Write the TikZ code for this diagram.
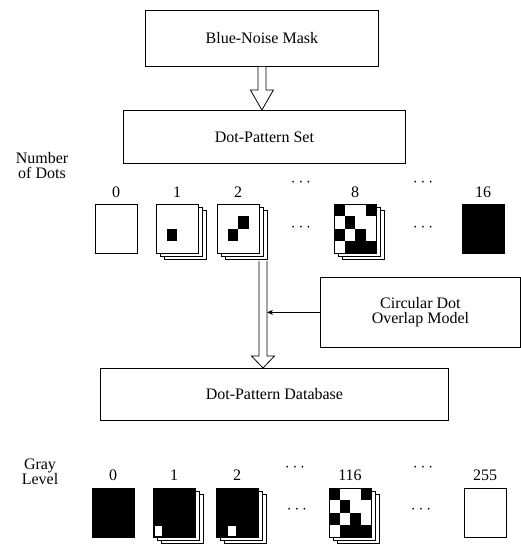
\documentclass[tikz,border=0pt]{standalone}
\usepackage{fontspec}
\setmainfont{Liberation Serif}
\usetikzlibrary{arrows.meta, calc}

\tikzset{
  block/.style={draw, rectangle, line width=0.8pt, inner sep=0pt, anchor=north west, align=center},
  card/.style={draw, rectangle, line width=0.7pt, minimum width=42pt, minimum height=49pt, inner sep=0pt, outer sep=0pt, anchor=north west},
  lbl/.style={inner sep=0pt},
}

% two cards stacked behind a front card
\newcommand{\backcards}[1]{%
  \draw[line width=0.7pt, fill=white] ($(#1)+(8,6)$) rectangle +(42,49);
  \draw[line width=0.7pt, fill=white] ($(#1)+(4,3)$) rectangle +(42,49);
}
% card with a 4x4 grid of cells: name, top-left, base colour, cell colour, cells
\def\cellgap{0}
\newcommand{\dotcard}[5]{%
  \node[card, fill=#3] (#1) at (#2) {};
  \foreach \c/\r in {#5}
    \fill[#4] ($(#1.north west)+(\c*10.5+\cellgap,\r*12.25+\cellgap)$) rectangle +(10.5-2*\cellgap,12.25-2*\cellgap);
}
% hollow block arrow: tail, tip, head length
\newcommand{\hollowarrow}[3]{%
  \draw[line width=0.8pt, fill=white, line join=miter]
    ($(#1)+(-4,0)$) -- ($(#2)+(-4,-#3)$) -- ($(#2)+(-11.5,-#3)$) -- (#2)
    -- ($(#2)+(11.5,-#3)$) -- ($(#2)+(4,-#3)$) -- ($(#1)+(4,0)$);
}

\begin{document}
\begin{tikzpicture}[x=1pt, y=-1pt, font=\fontsize{16}{15}\selectfont]
    \useasboundingbox (0,0) rectangle (521,544);

    % Blocks
    \node[block, minimum width=233pt, minimum height=56pt] (mask) at (145,10) {};
    \node at (mask.center) (masktxt) {Blue-Noise Mask};
    \node[block, minimum width=282pt, minimum height=53pt] (set) at (123,110) {};
    \node at (set.center) (settxt) {Dot-Pattern Set};
    \node[block, minimum width=200pt, minimum height=70pt] (model) at (320,277) {};
    \node[align=center] at (model.center) (modeltxt) {Circular Dot\\Overlap Model};
    \node[block, minimum width=348pt, minimum height=52pt] (base) at (100,368) {};
    \node at (base.center) (basetxt) {Dot-Pattern Database};

    % Arrows
    \hollowarrow{mask.south}{mask.south |- set.north}{20}
    \coordinate (split) at (263,261);
    \hollowarrow{split}{split |- base.north}{12}
    \draw[-{Stealth[length=6pt, width=5pt]}, line width=0.6pt] (model.west) -- ($(model.west -| split)+(4,0)$);

    % Dot patterns (number of dots)
    \node[align=center] (ndots) at (42,166) {Number\\of Dots};
    \node[card, fill=white] (d0) at (95,204) {};
    \backcards{156,204}
    \dotcard{d1}{156,204}{white}{black}{1/2}
    \backcards{217,204}
    \dotcard{d2}{217,204}{white}{black}{1/2, 2/1}
    \backcards{334,204}
    \dotcard{d8}{334,204}{white}{black}{0/0, 3/0, 1/1, 0/2, 2/2, 1/3, 2/3, 3/3}
    \node[card, fill=black] (d16) at (462,204) {};
    \node[lbl] (nd0) at (d0.north |- 0,192) {0};
    \node[lbl] (nd1) at (d1.north |- 0,192) {1};
    \node[lbl] (nd2) at (d2.north |- 0,192) {2};
    \node[lbl] (nd8) at (d8.north |- 0,192) {8};
    \node[lbl] (nd16) at (d16.north |- 0,192) {16};
    \node[lbl] (ndA) at (301,183) {$\cdots$};
    \node[lbl] (ndB) at (301,228) {$\cdots$};
    \node[lbl] (ndC) at (423,183) {$\cdots$};
    \node[lbl] (ndD) at (423,228) {$\cdots$};

    % Dot patterns (gray level)
    \node[align=center] (glevel) at (40,472) {Gray\\Level};
    \node[card, fill=black] (g0) at (92,488) {};
    \def\cellgap{1.5}
    \backcards{153,488}
    \dotcard{g1}{153,488}{black}{white}{0/3}
    \backcards{216,488}
    \dotcard{g2}{216,488}{black}{white}{1/3}
    \def\cellgap{0}
    \backcards{329,488}
    \dotcard{g116}{329,488}{white}{black}{0/0, 3/0, 1/1, 0/2, 2/2, 1/3, 2/3, 3/3}
    \node[card, fill=white] (g255) at (464,488) {};
    \node[lbl] (ng0) at (g0.north |- 0,475) {0};
    \node[lbl] (ng1) at (g1.north |- 0,475) {1};
    \node[lbl] (ng2) at (g2.north |- 0,475) {2};
    \node[lbl] (ng116) at (g116.north |- 0,475) {116};
    \node[lbl] (ng255) at (g255.north |- 0,475) {255};
    \node[lbl] (ngA) at (295,468) {$\cdots$};
    \node[lbl] (ngB) at (297,510) {$\cdots$};
    \node[lbl] (ngC) at (423,468) {$\cdots$};
    \node[lbl] (ngD) at (421,510) {$\cdots$};
\end{tikzpicture}
\end{document}
